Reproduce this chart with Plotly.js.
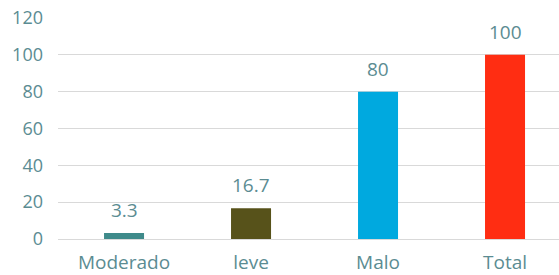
<!DOCTYPE html>
<html>
<head>
<meta charset="utf-8">
<script src="https://cdn.plot.ly/plotly-3.0.1.min.js"></script>
<style>html,body{margin:0;padding:0;background:#fff;}#chart{width:559px;height:275px;}</style>
</head>
<body>
<div id="chart"></div>
<script>
const categories = ["Moderado", "leve", "Malo", "Total"];
const values = [3.3, 16.7, 80, 100];
const valueLabels = ["3.3", "16.7", "80", "100"];
const barColors = ["#3e8a8a", "#57521a", "#00a9df", "#ff2d12"];
const yTicks = [0, 20, 40, 60, 80, 100, 120];

const textColor = "#5b8c92";
const fontFamily = "Open Sans, sans-serif";

const trace = {
  type: "bar",
  x: categories,
  y: values,
  marker: {color: barColors},
  hoverinfo: "none"
};

const annotations = categories.map((c, i) => ({
  x: c, y: values[i], text: valueLabels[i],
  xref: "x", yref: "y", showarrow: false,
  yanchor: "bottom", yshift: 8,
  font: {family: fontFamily, size: 19, color: textColor}
}));

const layout = {
  width: 559, height: 275,
  margin: {l: 58, r: 0, t: 18, b: 35.5, pad: 0},
  paper_bgcolor: "#fff", plot_bgcolor: "#fff",
  bargap: 0.685,
  showlegend: false,
  font: {family: fontFamily, size: 19, color: textColor},
  xaxis: {
    range: [-0.52, 3.425],
    showgrid: false, zeroline: false, showline: false,
    ticks: "", ticklabelstandoff: 10,
    tickfont: {family: fontFamily, size: 19, color: textColor}
  },
  yaxis: {
    range: [0, 120],
    tickvals: yTicks,
    showgrid: true, gridcolor: "#d9d9d9", gridwidth: 1,
    zeroline: true, zerolinecolor: "#d9d9d9", zerolinewidth: 1,
    showline: false, ticks: "", ticklabelstandoff: 14,
    tickfont: {family: fontFamily, size: 18, color: textColor}
  },
  annotations: annotations
};

Plotly.newPlot("chart", [trace], layout, {staticPlot: true, displayModeBar: false});
</script>
</body>
</html>
